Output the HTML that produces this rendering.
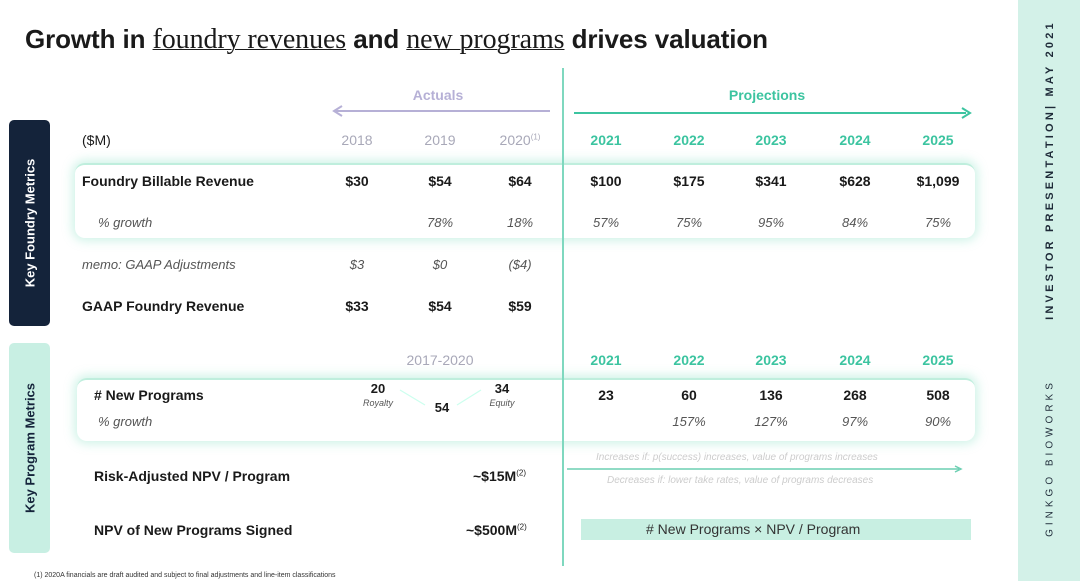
<!DOCTYPE html>
<html><head><meta charset="utf-8"><style>
*{margin:0;padding:0;box-sizing:border-box}
body{width:1080px;height:581px;background:#fff;position:relative;overflow:hidden;font-family:"Liberation Sans",sans-serif;color:#1a1a1a}
.a{position:absolute;white-space:nowrap}
.c{transform:translateX(-50%);text-align:center}
.b{font-weight:bold;font-size:14px}
.i{font-style:italic;font-size:13px;color:#555}
.g{color:#a8a8b8;font-size:14px}
.t{color:#3cc4a0;font-size:14px;font-weight:bold}
.box{position:absolute;background:#fff;border-radius:10px;box-shadow:0 0 10px 3px rgba(120,220,190,.35);border-top:2px solid #bfeedd}
</style></head><body>
<div class="a" style="left:25px;top:24px;font-size:26px;font-weight:bold;letter-spacing:-0.1px">Growth in <span style="font-family:'Liberation Serif',serif;font-weight:normal;text-decoration:underline;text-decoration-thickness:1px;font-size:28px">foundry revenues</span> and <span style="font-family:'Liberation Serif',serif;font-weight:normal;text-decoration:underline;text-decoration-thickness:1px;font-size:28px">new programs</span> drives valuation</div>

<div class="a" style="left:1018px;top:0;width:62px;height:581px;background:#d3f1e8"></div>
<div class="a" style="left:1050px;top:170px;transform:translate(-50%,-50%) rotate(-90deg);font-size:11px;font-weight:bold;letter-spacing:3.2px;color:#1e2a38">INVESTOR PRESENTATION| MAY 2021</div>
<div class="a" style="left:1050px;top:458px;transform:translate(-50%,-50%) rotate(-90deg);font-size:10px;letter-spacing:4px;color:#1e2a38">GINKGO BIOWORKS</div>

<div class="a" style="left:9px;top:120px;width:41px;height:206px;background:#14233a;border-radius:5px"></div>
<div class="a" style="left:30px;top:223px;transform:translate(-50%,-50%) rotate(-90deg);color:#fff;font-size:13px;font-weight:bold">Key Foundry Metrics</div>
<div class="a" style="left:9px;top:343px;width:41px;height:210px;background:#c8efe3;border-radius:5px"></div>
<div class="a" style="left:30px;top:448px;transform:translate(-50%,-50%) rotate(-90deg);color:#14233a;font-size:13px;font-weight:bold">Key Program Metrics</div>

<div class="box" style="left:75px;top:163px;width:900px;height:75px"></div>
<div class="box" style="left:77px;top:378px;width:898px;height:63px"></div>

<div class="a" style="left:562px;top:68px;width:1.5px;height:498px;background:#7fd8bf"></div>

<div class="a c" style="left:438px;top:87px;color:#b6b0d6;font-size:14px;font-weight:bold">Actuals</div>
<svg class="a" style="left:330px;top:104px" width="225" height="14"><line x1="6" y1="7" x2="220" y2="7" stroke="#b6b0d6" stroke-width="2"/><path d="M12 2 L4 7 L12 12" fill="none" stroke="#b6b0d6" stroke-width="2"/></svg>
<div class="a c" style="left:767px;top:87px;color:#3cc4a0;font-size:14px;font-weight:bold">Projections</div>
<svg class="a" style="left:572px;top:106px" width="402" height="14"><line x1="2" y1="7" x2="394" y2="7" stroke="#3cc4a0" stroke-width="2"/><path d="M390 2 L398 7 L390 12" fill="none" stroke="#3cc4a0" stroke-width="2"/></svg>

<div class="a" style="left:82px;top:132px;font-size:14px">($M)</div>
<div class="a b" style="left:82px;top:173px">Foundry Billable Revenue</div>
<div class="a i" style="left:98px;top:215px">% growth</div>
<div class="a i" style="left:82px;top:257px">memo: GAAP Adjustments</div>
<div class="a b" style="left:82px;top:298px">GAAP Foundry Revenue</div>

<div class="a c g" style="left:440px;top:352px">2017-2020</div>
<div class="a b" style="left:94px;top:387px">#&nbsp;New Programs</div>
<div class="a i" style="left:98px;top:414px">% growth</div>
<div class="a c b" style="left:378px;top:381px;font-size:13px">20</div>
<div class="a c i" style="left:378px;top:398px;font-size:9px">Royalty</div>
<div class="a c b" style="left:442px;top:400px;font-size:13px">54</div>
<div class="a c b" style="left:502px;top:381px;font-size:13px">34</div>
<div class="a c i" style="left:502px;top:398px;font-size:9px">Equity</div>
<svg class="a" style="left:395px;top:385px" width="90" height="30"><line x1="5" y1="5" x2="30" y2="20" stroke="#cfe" stroke-width="1.2"/><line x1="62" y1="20" x2="86" y2="5" stroke="#cfe" stroke-width="1.2"/></svg>

<div class="a b" style="left:94px;top:468px">Risk-Adjusted NPV / Program</div>
<div class="a b" style="left:473px;top:468px">~$15M<sup style="font-size:8px;font-weight:normal">(2)</sup></div>
<div class="a b" style="left:94px;top:522px">NPV of New Programs Signed</div>
<div class="a b" style="left:466px;top:522px">~$500M<sup style="font-size:8px;font-weight:normal">(2)</sup></div>

<div class="a i" style="left:596px;top:452px;font-size:10px;color:#ccc">Increases if: p(success) increases, value of programs increases</div>
<svg class="a" style="left:565px;top:464px" width="400" height="10"><line x1="2" y1="5" x2="394" y2="5" stroke="#6ccfb2" stroke-width="1.5"/><path d="M390 2 L396 5 L390 8" fill="none" stroke="#6ccfb2" stroke-width="1.5"/></svg>
<div class="a i" style="left:607px;top:475px;font-size:10px;color:#ccc">Decreases if: lower take rates, value of programs decreases</div>
<div class="a" style="left:581px;top:519px;width:390px;height:21px;background:#c8efe2"></div>
<div class="a" style="left:646px;top:521px;font-size:14px;color:#333"># New Programs × NPV / Program</div>

<div class="a" style="left:34px;top:572px;font-size:7px;color:#333">(1) 2020A financials are draft audited and subject to final adjustments and line-item classifications</div>

<div id="cells"></div>
<script>
const years=["2018","2019","2020","2021","2022","2023","2024","2025"];
const fbr=["$30","$54","$64","$100","$175","$341","$628","$1,099"];
const fbrGrowth=["","78%","18%","57%","75%","95%","84%","75%"];
const gaapAdj=["$3","$0","($4)","","","","",""];
const gaapRev=["$33","$54","$59","","","","",""];
const progYears=["2021","2022","2023","2024","2025"];
const programs=["23","60","136","268","508"];
const progGrowth=["","157%","127%","97%","90%"];
const cx=[357,440,520,606,689,771,855,938];
const host=document.getElementById('cells');
function put(txt,x,y,cls,name){
  if(!txt)return;
  const d=document.createElement('div');
  d.className='a c '+cls;
  d.style.left=x+'px';d.style.top=y+'px';
  d.innerHTML=txt;
  
  
  host.appendChild(d);
}
years.forEach((y,i)=>{
  put(y+(y==="2020"?'<sup style="font-size:8px">(1)</sup>':''),cx[i],132,i<3?'g':'t','year-'+y);
  put(fbr[i],cx[i],173,'b','fbr-'+y);
  put(fbrGrowth[i],cx[i],215,'i','fbr-growth-'+y);
  put(gaapAdj[i],cx[i],257,'i','gaap-adj-'+y);
  put(gaapRev[i],cx[i],298,'b','gaap-rev-'+y);
});
progYears.forEach((y,i)=>{
  const x=cx[i+3];
  put(y,x,352,'t','prog-year-'+y);
  put(programs[i],x,387,'b','programs-'+y);
  put(progGrowth[i],x,414,'i','prog-growth-'+y);
});
</script>
</body></html>
